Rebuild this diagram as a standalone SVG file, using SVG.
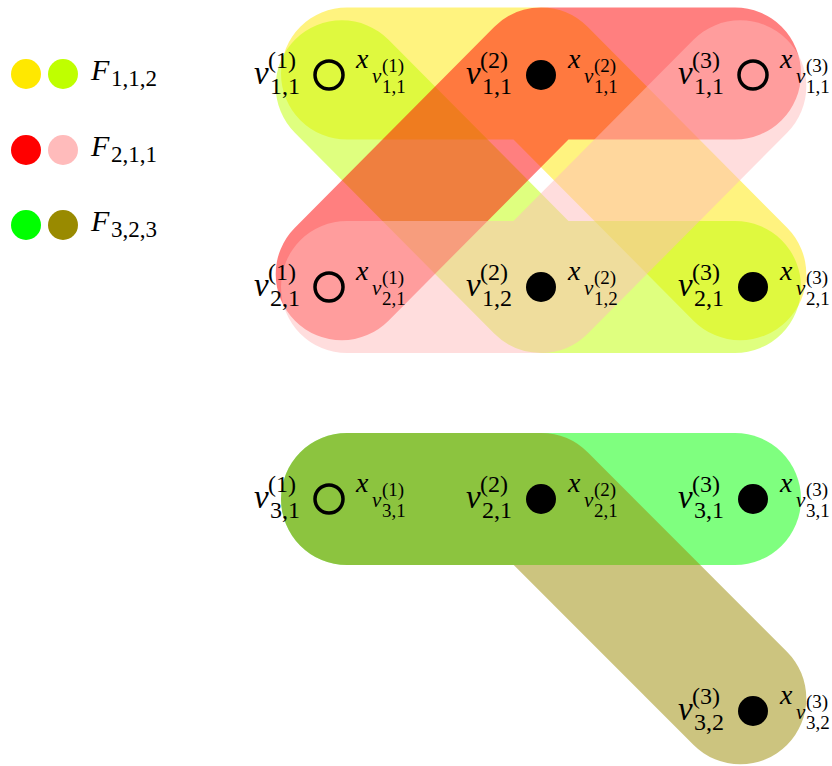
<svg xmlns="http://www.w3.org/2000/svg" width="832" height="766" viewBox="0 0 832 766">
<style>
.e{fill:none;stroke-width:132;stroke-linecap:round;stroke-linejoin:round;stroke-opacity:0.5}
.t{font-family:"Liberation Serif","Times New Roman",serif;fill:#000}
.lv{font-style:italic;font-size:33px}
.ls{font-size:24px}
.lx{font-style:italic;font-size:28px}
.lxv{font-style:italic;font-size:21px}
.lxs{font-size:19px}
.lf{font-style:italic;font-size:30px}
.lfs{font-size:23px}
.open{fill:none;stroke:#000;stroke-width:3.5}
.full{fill:#000}
</style>
<rect width="832" height="766" fill="#fff"/>
<g id="connectors">
<path class="e" stroke="#FFE800" d="M347,73.5 L541,73.5 L740.3,274.2"/>
<path class="e" stroke="#BFFF00" d="M341.7,86.3 L541,287 L735,287"/>
<path class="e" stroke="#FF0000" d="M341.7,274.2 L541,73.5 L735,73.5"/>
<path class="e" stroke="#FFBBBB" d="M347,287 L541,287 L740.3,86.3"/>
<path class="e" stroke="#00FF00" d="M347,499 L735,499"/>
<path class="e" stroke="#998A00" d="M347,499 L541,499 L740.3,698.3"/>
</g>
<g id="legend">
<circle cx="26" cy="74" r="15" fill="#FFE800"/>
<circle cx="63" cy="74" r="15" fill="#BFFF00"/>
<text class="t lf" x="91" y="80">F</text><text class="t lfs" x="111" y="86">1,1,2</text>
<circle cx="26" cy="150" r="15" fill="#FF0000"/>
<circle cx="63" cy="150" r="15" fill="#FFBBBB"/>
<text class="t lf" x="91" y="156">F</text><text class="t lfs" x="111" y="162">2,1,1</text>
<circle cx="26" cy="225" r="15" fill="#00FF00"/>
<circle cx="63" cy="225" r="15" fill="#998A00"/>
<text class="t lf" x="91" y="231">F</text><text class="t lfs" x="111" y="237">3,2,3</text>
</g>
<g id="n-v11-1" transform="translate(329,75)">
<circle class="open" r="14"/>
<text class="t lv" x="-75" y="9">v</text><text class="t ls" x="-61" y="-7">(1)</text><text class="t ls" x="-59" y="19">1,1</text>
<text class="t lx" x="27" y="-7">x</text><text class="t lxv" x="43" y="8">v</text><text class="t lxs" x="53" y="-3">(1)</text><text class="t lxs" x="53" y="18">1,1</text>
</g>
<g id="n-v11-2" transform="translate(541,75)">
<circle class="full" r="15"/>
<text class="t lv" x="-75" y="9">v</text><text class="t ls" x="-61" y="-7">(2)</text><text class="t ls" x="-59" y="19">1,1</text>
<text class="t lx" x="27" y="-7">x</text><text class="t lxv" x="43" y="8">v</text><text class="t lxs" x="53" y="-3">(2)</text><text class="t lxs" x="53" y="18">1,1</text>
</g>
<g id="n-v11-3" transform="translate(753,75)">
<circle class="open" r="14"/>
<text class="t lv" x="-75" y="9">v</text><text class="t ls" x="-61" y="-7">(3)</text><text class="t ls" x="-59" y="19">1,1</text>
<text class="t lx" x="27" y="-7">x</text><text class="t lxv" x="43" y="8">v</text><text class="t lxs" x="53" y="-3">(3)</text><text class="t lxs" x="53" y="18">1,1</text>
</g>
<g id="n-v21-1" transform="translate(329,287)">
<circle class="open" r="14"/>
<text class="t lv" x="-75" y="9">v</text><text class="t ls" x="-61" y="-7">(1)</text><text class="t ls" x="-59" y="19">2,1</text>
<text class="t lx" x="27" y="-7">x</text><text class="t lxv" x="43" y="8">v</text><text class="t lxs" x="53" y="-3">(1)</text><text class="t lxs" x="53" y="18">2,1</text>
</g>
<g id="n-v12-2" transform="translate(541,287)">
<circle class="full" r="15"/>
<text class="t lv" x="-75" y="9">v</text><text class="t ls" x="-61" y="-7">(2)</text><text class="t ls" x="-59" y="19">1,2</text>
<text class="t lx" x="27" y="-7">x</text><text class="t lxv" x="43" y="8">v</text><text class="t lxs" x="53" y="-3">(2)</text><text class="t lxs" x="53" y="18">1,2</text>
</g>
<g id="n-v21-3" transform="translate(753,287)">
<circle class="full" r="15"/>
<text class="t lv" x="-75" y="9">v</text><text class="t ls" x="-61" y="-7">(3)</text><text class="t ls" x="-59" y="19">2,1</text>
<text class="t lx" x="27" y="-7">x</text><text class="t lxv" x="43" y="8">v</text><text class="t lxs" x="53" y="-3">(3)</text><text class="t lxs" x="53" y="18">2,1</text>
</g>
<g id="n-v31-1" transform="translate(329,499)">
<circle class="open" r="14"/>
<text class="t lv" x="-75" y="9">v</text><text class="t ls" x="-61" y="-7">(1)</text><text class="t ls" x="-59" y="19">3,1</text>
<text class="t lx" x="27" y="-7">x</text><text class="t lxv" x="43" y="8">v</text><text class="t lxs" x="53" y="-3">(1)</text><text class="t lxs" x="53" y="18">3,1</text>
</g>
<g id="n-v21-2" transform="translate(541,499)">
<circle class="full" r="15"/>
<text class="t lv" x="-75" y="9">v</text><text class="t ls" x="-61" y="-7">(2)</text><text class="t ls" x="-59" y="19">2,1</text>
<text class="t lx" x="27" y="-7">x</text><text class="t lxv" x="43" y="8">v</text><text class="t lxs" x="53" y="-3">(2)</text><text class="t lxs" x="53" y="18">2,1</text>
</g>
<g id="n-v31-3" transform="translate(753,499)">
<circle class="full" r="15"/>
<text class="t lv" x="-75" y="9">v</text><text class="t ls" x="-61" y="-7">(3)</text><text class="t ls" x="-59" y="19">3,1</text>
<text class="t lx" x="27" y="-7">x</text><text class="t lxv" x="43" y="8">v</text><text class="t lxs" x="53" y="-3">(3)</text><text class="t lxs" x="53" y="18">3,1</text>
</g>
<g id="n-v32-3" transform="translate(753,711)">
<circle class="full" r="15"/>
<text class="t lv" x="-75" y="9">v</text><text class="t ls" x="-61" y="-7">(3)</text><text class="t ls" x="-59" y="19">3,2</text>
<text class="t lx" x="27" y="-7">x</text><text class="t lxv" x="43" y="8">v</text><text class="t lxs" x="53" y="-3">(3)</text><text class="t lxs" x="53" y="18">3,2</text>
</g>
</svg>
